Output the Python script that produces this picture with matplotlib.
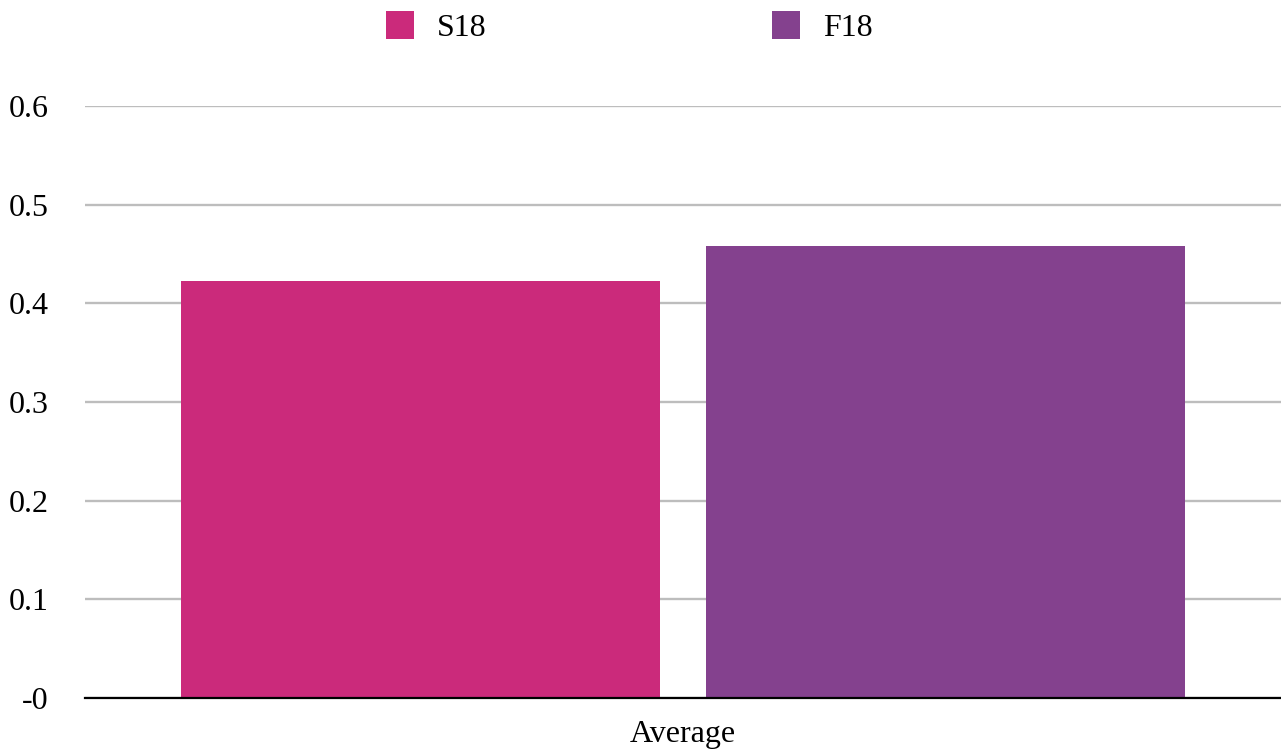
import matplotlib
matplotlib.use("Agg")
import matplotlib.pyplot as plt
from matplotlib.patches import Patch

plt.rcParams['font.family'] = ['Liberation Serif', 'DejaVu Serif']

categories = ["Average"]
series_names = ["S18", "F18"]
series_values = [[0.4226], [0.4581]]
series_colors = ["#CB2A7B", "#84418E"]
y_ticks = [0.0, 0.1, 0.2, 0.3, 0.4, 0.5, 0.6]
y_tick_labels = ["-0", "0.1", "0.2", "0.3", "0.4", "0.5", "0.6"]

W, H = 1281, 753
fig = plt.figure(figsize=(W / 100, H / 100), dpi=100)
ax = fig.add_axes([85 / W, (H - 698) / H, (W - 85) / W, (698 - 106) / H])

bar_w = 0.401
offsets = [-0.2195, 0.2195]
for name, vals, col, off in zip(series_names, series_values, series_colors, offsets):
    xs = [i + off for i in range(len(categories))]
    ax.bar(xs, vals, width=bar_w, color=col, label=name, zorder=2)

ax.set_xlim(-0.5, len(categories) - 0.5)
ax.set_ylim(0, 0.6)
ax.set_yticks(y_ticks)
ax.set_yticklabels(y_tick_labels)
ax.set_xticks(range(len(categories)))
ax.set_xticklabels(categories)
ax.tick_params(axis='y', length=0, pad=26, labelsize=23)
ax.tick_params(axis='x', length=0, pad=16, labelsize=23)
ax.yaxis.grid(True, color="#bdbdbd", linewidth=1.7, zorder=0)
ax.set_axisbelow(True)
for s in ["top", "right", "left"]:
    ax.spines[s].set_visible(False)
ax.spines["bottom"].set_color("black")
ax.spines["bottom"].set_linewidth(1.6)
ax.spines["bottom"].set_zorder(3)

handles = [Patch(facecolor=c, edgecolor='none') for c in series_colors]
fig.legend(handles, series_names, loc='center left',
           bbox_to_anchor=(386 / W, 1 - 27 / H), ncol=2, frameon=False,
           fontsize=23, handlelength=0.88, handleheight=1.0,
           handletextpad=0.72, columnspacing=8.93, borderpad=0,
           borderaxespad=0)

fig.savefig("out.png", dpi=100)
